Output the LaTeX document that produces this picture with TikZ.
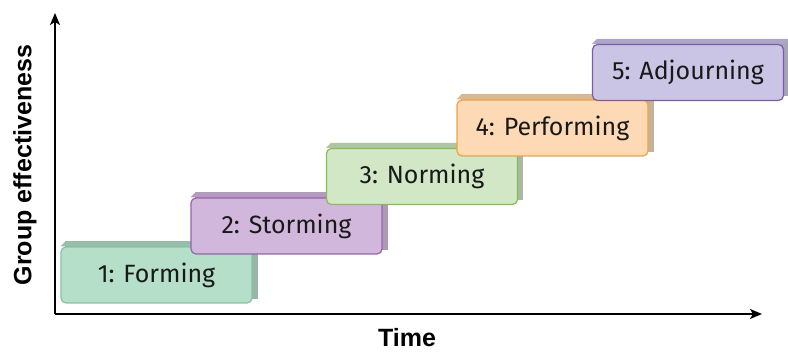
\documentclass[tikz,border=0pt]{standalone}
\usepackage{fontspec}
\setmainfont{Liberation Sans}
\newfontfamily\boxfont{Fira Sans}
\usetikzlibrary{arrows.meta,backgrounds}
\definecolor{f1}{HTML}{B5DFC9}\definecolor{d1}{HTML}{86C3A2}
\definecolor{f2}{HTML}{D2B7DD}\definecolor{d2}{HTML}{9B5FB0}
\definecolor{f3}{HTML}{D1E7C6}\definecolor{d3}{HTML}{86BF4E}
\definecolor{f4}{HTML}{FDDAB5}\definecolor{d4}{HTML}{F2A33A}
\definecolor{f5}{HTML}{CAC5E5}\definecolor{d5}{HTML}{7E5AAE}
\tikzset{
  stagebox/.style={draw=#1, line width=1.2pt, rounded corners=5pt, minimum width=191pt, minimum height=56pt, inner sep=0pt, text=black!90, font=\boxfont\fontsize{25}{28}\selectfont},
  axisline/.style={line width=1.7pt, -{Stealth[length=12pt,width=10pt,inset=3pt]}},
  axislabel/.style={inner sep=0pt, font=\bfseries\fontsize{25}{28}\selectfont}
}
\newcommand{\depthfaces}[2]{%
  \begin{scope}[on background layer]
    \fill[#2!72!black!80!white] ([shift={(5pt,5pt)}]#1.north west) rectangle ([shift={(5pt,5pt)}]#1.south east);
    \fill[#2!85!black] (#1.north west) -- ([shift={(5pt,5pt)}]#1.north west) -- ([shift={(5pt,5pt)}]#1.north east) -- (#1.north east) -- cycle;
  \end{scope}}
\begin{document}
\begin{tikzpicture}[x=1pt,y=-1pt]
\useasboundingbox (0,0) rectangle (788,352);
\coordinate (origin) at (55,314);
\coordinate (ytop) at (55,13);
\coordinate (xend) at (762,314);
\draw[axisline] (origin) -- (ytop);
\draw[axisline] (origin) -- (xend);
\node[axislabel, rotate=90] (ylab) at (25,165) {Group effectiveness};
\node[axislabel, anchor=base] (xlab) at (407,347) {Time};
\node[stagebox=d1, fill=f1] (s1) at (156.5,275) {1: Forming};
\depthfaces{s1}{f1}
\node[stagebox=d2, fill=f2] (s2) at (286.5,226) {2: Storming};
\depthfaces{s2}{f2}
\node[stagebox=d3, fill=f3] (s3) at (422,176.5) {3: Norming};
\depthfaces{s3}{f3}
\node[stagebox=d4, fill=f4] (s4) at (552.5,128) {4: Performing};
\depthfaces{s4}{f4}
\node[stagebox=d5, fill=f5] (s5) at (688,72.5) {5: Adjourning};
\depthfaces{s5}{f5}
\end{tikzpicture}
\end{document}
